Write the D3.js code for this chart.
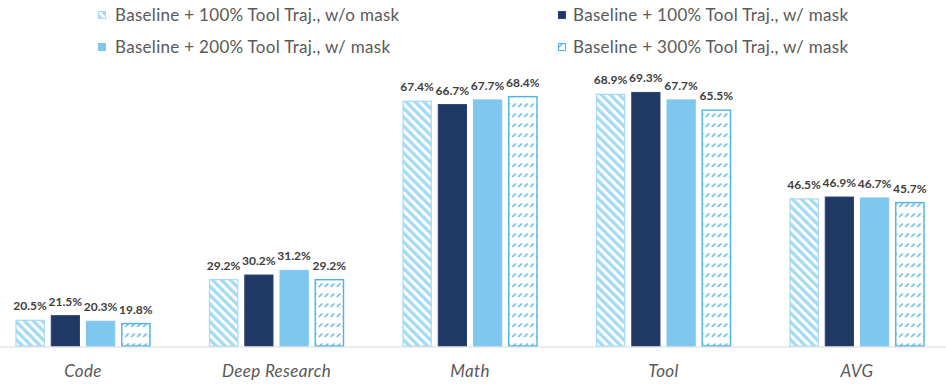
<!DOCTYPE html>
<html>
<head>
<meta charset="utf-8">
<script src="https://cdn.jsdelivr.net/npm/d3@7"></script>
<style>
  body { margin: 0; background: #fff; }
  svg { display: block; font-family: Lato, "Open Sans", sans-serif; }
</style>
</head>
<body>
<div id="chart"></div>
<script>
const categories = ['Code', 'Deep Research', 'Math', 'Tool', 'AVG'];
const seriesNames = [
  'Baseline + 100% Tool Traj., w/o mask',
  'Baseline + 100% Tool Traj., w/ mask',
  'Baseline + 200% Tool Traj., w/ mask',
  'Baseline + 300% Tool Traj., w/ mask',
];
const noMask100 = [20.5, 29.2, 67.4, 68.9, 46.5];
const mask100 = [21.5, 30.2, 66.7, 69.3, 46.9];
const mask200 = [20.3, 31.2, 67.7, 67.7, 46.7];
const mask300 = [19.8, 29.2, 68.4, 65.5, 45.7];
const seriesValues = [noMask100, mask100, mask200, mask300];

const width = 946;
const height = 389;
const baseY = 346;

const svg = d3.select('#chart').append('svg')
  .attr('width', width)
  .attr('height', height);

const defs = svg.append('defs');

// light blue diagonal stripes
const stripes = defs.append('pattern')
  .attr('id', 'stripes')
  .attr('patternUnits', 'userSpaceOnUse')
  .attr('width', 6.3)
  .attr('height', 6.3)
  .attr('patternTransform', 'rotate(-45)');
stripes.append('rect').attr('width', 6.3).attr('height', 6.3).attr('fill', '#fff');
stripes.append('rect').attr('width', 3.3).attr('height', 6.3).attr('fill', '#a3daf6');

// small dashed upward diagonals
const dashes = defs.append('pattern')
  .attr('id', 'dashes')
  .attr('patternUnits', 'userSpaceOnUse')
  .attr('width', 6)
  .attr('height', 10);
dashes.append('rect').attr('width', 6).attr('height', 10).attr('fill', '#fff');
dashes.append('path')
  .attr('d', 'M1.5,6.5L4,4')
  .attr('stroke', '#4db3e6')
  .attr('stroke-width', 1.4)
  .attr('stroke-linecap', 'square');

const fills = ['url(#stripes)', '#203864', '#7ec8f0', 'url(#dashes)'];
const strokes = ['#a3daf6', '#2b4676', '#7ec8f0', '#4db3e6'];
const strokeWidths = [1.2, 1, 1, 1.4];

const x0 = d3.scaleBand()
  .domain(categories)
  .range([-13.75, 953.75]);

const x1 = d3.scaleBand()
  .domain(d3.range(seriesNames.length))
  .range([x0.bandwidth() / 2 - 67.5, x0.bandwidth() / 2 + 67.5])
  .paddingInner(0.17);

const y = d3.scaleLinear()
  .domain([15, 80])
  .range([baseY, baseY - 65 * 4.67]);

const rows = categories.map((c, i) => ({
  category: c,
  values: seriesValues.map((s, k) => ({ k, v: s[i] })),
}));

const groups = svg.selectAll('g.group')
  .data(rows)
  .join('g')
  .attr('class', 'group')
  .attr('transform', d => `translate(${x0(d.category)},0)`);

groups.selectAll('rect')
  .data(d => d.values)
  .join('rect')
  .attr('x', d => x1(d.k) + 0.5)
  .attr('width', x1.bandwidth() - 1)
  .attr('y', d => y(d.v))
  .attr('height', d => baseY - y(d.v))
  .attr('fill', d => fills[d.k])
  .attr('stroke', d => strokes[d.k])
  .attr('stroke-width', d => strokeWidths[d.k]);

groups.selectAll('text.value')
  .data(d => d.values)
  .join('text')
  .attr('class', 'value')
  .attr('x', d => x1(d.k) + x1.bandwidth() / 2)
  .attr('y', d => y(d.v) - 10)
  .attr('text-anchor', 'middle')
  .attr('font-size', 12)
  .attr('font-weight', 'bold')
  .attr('fill', '#404040')
  .text(d => `${d.v.toFixed(1)}%`);

const xAxis = svg.append('g')
  .attr('transform', `translate(0,${baseY + 0.5})`)
  .call(d3.axisBottom(x0).tickSize(0).tickPadding(0));

xAxis.select('.domain').attr('stroke', '#d9d9d9');
xAxis.selectAll('.tick text')
  .attr('y', 30)
  .attr('dy', 0)
  .attr('font-family', 'Lato, "Open Sans", sans-serif')
  .attr('font-size', 17)
  .attr('letter-spacing', 0.35)
  .attr('font-style', 'italic')
  .attr('fill', '#595959');

// legend: two columns, two rows
const legendPos = [
  { x: 98, tx: 115, y: 15 },
  { x: 558, tx: 573, y: 15 },
  { x: 98, tx: 115, y: 47 },
  { x: 558, tx: 573, y: 47 },
];

const legend = svg.selectAll('g.legend')
  .data(seriesNames.map((name, k) => ({ name, k })))
  .join('g')
  .attr('class', 'legend');

legend.append('rect')
  .attr('x', d => legendPos[d.k].x + 0.5)
  .attr('y', d => legendPos[d.k].y - 3.5)
  .attr('width', 7)
  .attr('height', 7)
  .attr('fill', d => fills[d.k])
  .attr('stroke', d => strokes[d.k])
  .attr('stroke-width', 1);

legend.append('text')
  .attr('x', d => legendPos[d.k].tx)
  .attr('y', d => legendPos[d.k].y)
  .attr('dy', '0.35em')
  .attr('font-size', 17)
  .attr('letter-spacing', 0.3)
  .attr('fill', '#595959')
  .text(d => d.name);
</script>
</body>
</html>
